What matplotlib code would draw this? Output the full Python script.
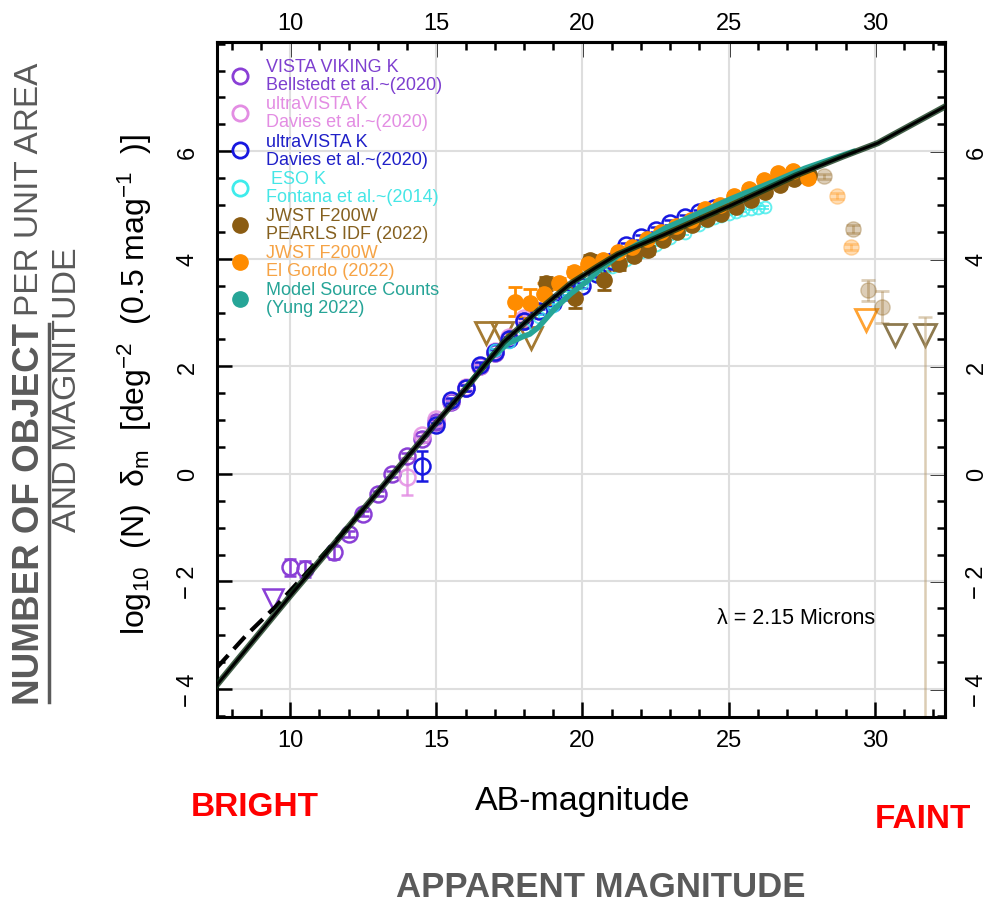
import matplotlib
matplotlib.use('Agg')
import matplotlib.pyplot as plt
from matplotlib.lines import Line2D
from matplotlib.ticker import MultipleLocator, FixedLocator, FuncFormatter

plt.rcParams['font.family'] = ['Liberation Sans', 'DejaVu Sans']
plt.rcParams['mathtext.fontset'] = 'custom'
plt.rcParams['mathtext.rm'] = 'Liberation Sans'
plt.rcParams['mathtext.it'] = 'Liberation Sans:italic'

# ---- data ----
# model curves (black solid, black dashed, teal model counts)
solid_mag = [7.5, 10.0, 12.5, 15.0, 16.0, 17.3, 18.5, 19.6, 20.5, 21.2, 22.8, 25.1, 27.3, 28.9, 30.1, 32.4]
solid_y = [-3.92, -2.27, -0.66, 0.95, 1.58, 2.45, 3.04, 3.54, 3.85, 4.08, 4.45, 5.0, 5.55, 5.9, 6.15, 6.83]
dash_mag = [7.5, 8.5, 9.5, 10.5, 11.5, 12.5]
dash_y = [-3.6, -3.0, -2.47, -1.88, -1.28, -0.66]
model_mag = [16.0, 16.9, 17.45, 17.95, 18.2, 18.5, 19.05, 19.6, 20.2, 20.6, 21.2, 22.8, 25.1, 26.7, 27.6, 29.3]
model_y = [1.6, 2.17, 2.42, 2.55, 2.6, 2.73, 3.07, 3.35, 3.6, 3.8, 4.05, 4.56, 5.12, 5.47, 5.68, 6.0]

# VISTA VIKING K (Bellstedt 2020)
vik_mag = [10.0, 10.5, 11.5, 12.0, 12.5, 13.0, 13.5, 14.0, 14.5, 15.0, 15.5, 16.0, 16.5, 17.0, 17.5, 18.0]
vik_y = [-1.74, -1.77, -1.46, -1.12, -0.74, -0.37, 0.0, 0.34, 0.65, 0.96, 1.33, 1.6, 2.0, 2.25, 2.5, 2.85]
vik_err = [0.15, 0.15, 0.12, 0.05, 0.05, 0.05, 0.05, 0.05, 0.05, 0.05, 0.05, 0.05, 0.05, 0.05, 0.05, 0.05]
vik_lim_mag = [9.4]
vik_lim_y = [-2.33]

# ultraVISTA K (Davies 2020), pink
uvp_mag = [14.0, 14.5, 15.0, 15.5, 16.0, 16.5, 17.0, 17.5, 18.0]
uvp_y = [-0.05, 0.72, 1.02, 1.35, 1.62, 2.0, 2.28, 2.55, 2.9]
uvp_err = [0.35, 0.05, 0.05, 0.05, 0.05, 0.05, 0.05, 0.05, 0.05]

# ultraVISTA K (Davies 2020), blue
uvb_mag = [14.5, 15.0, 15.5, 16.0, 16.5, 17.0, 17.5, 18.0, 18.5, 19.0, 19.5, 20.0, 20.5,
           21.0, 21.5, 22.0, 22.5, 23.0, 23.5, 24.0, 24.5]
uvb_y = [0.15, 0.9, 1.37, 1.6, 2.03, 2.27, 2.5, 2.85, 3.02, 3.18, 3.38, 3.5, 3.72,
         3.95, 4.25, 4.4, 4.54, 4.67, 4.77, 4.86, 4.95]
uvb_err = [0.28] + [0.05] * 20

# ESO K (Fontana 2014)
eso_mag = [17.0, 17.5, 18.0, 18.5, 19.0, 19.5, 20.0, 20.5, 21.0, 21.5, 22.0, 22.5, 23.0, 23.5,
           24.0, 24.25, 24.5, 24.75, 25.0, 25.25, 25.5, 25.75, 26.0, 26.25]
eso_y = [2.3, 2.45, 2.7, 2.92, 3.12, 3.35, 3.55, 3.72, 3.85, 3.97, 4.12, 4.26, 4.38, 4.48,
         4.62, 4.7, 4.75, 4.8, 4.84, 4.87, 4.9, 4.93, 4.95, 4.96]

# JWST F200W PEARLS IDF (2022)
pearls_mag = [18.75, 19.75, 20.25, 20.75, 21.25, 21.75, 22.25, 22.75, 23.25, 23.75, 24.25,
              24.75, 25.25, 25.75, 26.25, 26.75, 27.25, 27.75]
pearls_y = [3.54, 3.27, 3.97, 3.6, 3.9, 4.05, 4.16, 4.35, 4.5, 4.63, 4.74, 4.84, 4.97,
            5.1, 5.24, 5.37, 5.48, 5.56]
pearls_err = [0.12, 0.18, 0.1, 0.18, 0.1, 0.08, 0.08, 0.06, 0.06, 0.05, 0.05, 0.05, 0.05,
              0.05, 0.05, 0.05, 0.05, 0.05]
pearls_faint_mag = [28.25, 29.25, 29.75, 30.25]
pearls_faint_y = [5.53, 4.55, 3.41, 3.1]
pearls_faint_err = [0.05, 0.08, 0.2, 0.3]
pearls_lim_mag = [16.7, 17.25, 18.25]
pearls_lim_y = [2.62, 2.62, 2.52]
pearls_lim_faint_mag = [30.7, 31.7]
pearls_lim_faint_y = [2.58, 2.58]

# JWST F200W El Gordo (2022)
gordo_mag = [17.7, 18.2, 18.7, 19.2, 19.7, 20.2, 20.7, 21.2, 21.7, 22.2, 22.7, 23.2, 23.7,
             24.2, 24.7, 25.2, 25.7, 26.2, 26.7, 27.2, 27.7]
gordo_y = [3.2, 3.17, 3.35, 3.54, 3.76, 3.9, 3.97, 4.13, 4.22, 4.36, 4.5, 4.6, 4.72,
           4.92, 5.0, 5.17, 5.3, 5.47, 5.6, 5.64, 5.5]
gordo_err = [0.27, 0.27, 0.2, 0.1, 0.08, 0.08, 0.08, 0.06, 0.06, 0.05, 0.05, 0.05, 0.05,
             0.05, 0.05, 0.05, 0.05, 0.05, 0.05, 0.05, 0.05]
gordo_faint_mag = [28.7, 29.2]
gordo_faint_y = [5.17, 4.22]
gordo_lim_mag = [29.7]
gordo_lim_y = [2.86]

x_ticks = [10, 15, 20, 25, 30]
y_ticks = [-4, -2, 0, 2, 4, 6]

c_vik = '#8a3fd6'
c_uvp = '#e38de3'
c_uvb = '#1818e0'
c_eso = '#3fecec'
c_pearls = '#8b5c12'
c_pearls_lim = '#a47a32'
c_gordo = '#ff8c00'
c_model = '#26a597'
gray = '#5a5a5a'

W, H = 993, 903
fig = plt.figure(figsize=(W / 100, H / 100), dpi=100)
ax = fig.add_axes([217 / W, 1 - 718 / H, (945 - 217) / W, (718 - 43) / H])

eb_open = dict(fmt='o', mfc='none', ms=11.5, mew=1.8, elinewidth=1.8, capsize=4.5, capthick=1.8)

ax.errorbar(vik_mag, vik_y, yerr=vik_err, color=c_vik, mec=c_vik, **eb_open)
ax.plot(vik_lim_mag, vik_lim_y, 'v', mfc='none', mec=c_vik, ms=15, mew=1.8)
ax.errorbar(uvp_mag, uvp_y, yerr=uvp_err, color=c_uvp, mec=c_uvp, alpha=0.85, **eb_open)
ax.errorbar(uvb_mag, uvb_y, yerr=uvb_err, color=c_uvb, mec=c_uvb, **eb_open)
ax.errorbar(eso_mag, eso_y, yerr=0.03, fmt='o', mfc='none', ms=8.5, mew=1.4,
            color=c_eso, mec=c_eso, elinewidth=1.2, capsize=3, capthick=1.2, alpha=0.8)

eb_fill = dict(fmt='o', ms=11, elinewidth=2, capsize=5, capthick=2)
ax.errorbar(pearls_mag, pearls_y, yerr=pearls_err, color=c_pearls, mec=c_pearls, **eb_fill)
ax.errorbar(gordo_mag, gordo_y, yerr=gordo_err, color=c_gordo, mec=c_gordo, **eb_fill)
ax.errorbar(pearls_faint_mag, pearls_faint_y, yerr=pearls_faint_err, color=c_pearls,
            mec=c_pearls, alpha=0.3, **eb_fill)
ax.errorbar(gordo_faint_mag, gordo_faint_y, yerr=0.06, color=c_gordo, mec=c_gordo,
            alpha=0.3, **eb_fill)

ax.plot(pearls_lim_mag, pearls_lim_y, 'v', mfc='none', mec=c_pearls_lim, ms=16, mew=2)
ax.plot(gordo_lim_mag, gordo_lim_y, 'v', mfc='none', mec=c_gordo, ms=16, mew=2, alpha=0.8)
ax.plot(pearls_lim_faint_mag, pearls_lim_faint_y, 'v', mfc='none', mec='#7a6330', ms=16,
        mew=2, alpha=0.85)
ax.errorbar(pearls_lim_faint_mag[-1:], pearls_lim_faint_y[-1:], yerr=[[10], [0.34]],
            fmt='none', ecolor='#b89a6a', elinewidth=1.8, capsize=5, capthick=1.8, alpha=0.5)

ax.plot(model_mag, model_y, color=c_model, lw=4, solid_capstyle='round', zorder=4)
ax.plot(dash_mag, dash_y, color='black', lw=3, ls=(0, (4, 2)), zorder=5)
ax.plot(solid_mag, solid_y, color='#14381c', lw=4.5, zorder=5, alpha=0.8)
ax.plot(solid_mag, solid_y, color='black', lw=2.2, zorder=6)

ax.set_xlim(7.5, 32.4)
ax.set_ylim(-4.52, 8.03)
ax.xaxis.set_major_locator(FixedLocator(x_ticks))
ax.xaxis.set_minor_locator(MultipleLocator(1))
ax.yaxis.set_major_locator(FixedLocator(y_ticks))
ax.yaxis.set_minor_locator(MultipleLocator(0.5))
fmt = FuncFormatter(lambda v, p: f'\u2212 {abs(int(round(v)))}' if v < 0 else f'{int(round(v))}')
ax.yaxis.set_major_formatter(fmt)
ax.grid(True, which='major', color='#dedede', lw=1.5)
ax.set_axisbelow(True)
for s in ax.spines.values():
    s.set_linewidth(2.2)

ax.tick_params(which='both', direction='in', width=1.8, labelsize=17, top=False, right=False)
ax.tick_params(which='major', length=11)
ax.tick_params(which='minor', length=6)
ax.tick_params(axis='x', pad=9)
ax.tick_params(axis='y', pad=13, labelrotation=90)
for t in ax.get_yticklabels():
    t.set_va('center')

# top and right axes carry their own labels
sec_x = ax.secondary_xaxis('top')
sec_x.xaxis.set_major_locator(FixedLocator(x_ticks))
sec_x.xaxis.set_minor_locator(MultipleLocator(1))
sec_x.spines['top'].set_linewidth(2.2)
sec_x.tick_params(which='both', direction='in', width=1.8, labelsize=17, pad=6)
sec_x.tick_params(which='major', length=11)
sec_x.tick_params(which='minor', length=6)

sec = ax.secondary_yaxis('right')
sec.yaxis.set_major_locator(FixedLocator(y_ticks))
sec.yaxis.set_minor_locator(MultipleLocator(0.5))
sec.yaxis.set_major_formatter(fmt)
sec.spines['right'].set_linewidth(2.2)
sec.tick_params(which='both', direction='in', width=1.8, labelsize=17, pad=15,
                labelrotation=90)
sec.tick_params(which='major', length=11)
sec.tick_params(which='minor', length=6)
for t in sec.get_yticklabels():
    t.set_va('center')

ax.text(24.6, -2.67, '\u03bb = 2.15 Microns', fontsize=15.5, va='center', ha='left')

# legend
handles = [
    Line2D([], [], ls='none', marker='o', mfc='none', mec=c_vik, ms=11, mew=2),
    Line2D([], [], ls='none', marker='o', mfc='none', mec=c_uvp, ms=11, mew=2),
    Line2D([], [], ls='none', marker='o', mfc='none', mec=c_uvb, ms=11, mew=2),
    Line2D([], [], ls='none', marker='o', mfc='none', mec=c_eso, ms=11, mew=2),
    Line2D([], [], ls='none', marker='o', color=c_pearls, ms=11),
    Line2D([], [], ls='none', marker='o', color=c_gordo, ms=11),
    Line2D([], [], ls='none', marker='o', color=c_model, ms=11),
]
labels = [
    'VISTA VIKING K\nBellstedt et al.~(2020)',
    'ultraVISTA K\nDavies et al.~(2020)',
    'ultraVISTA K\nDavies et al.~(2020)',
    ' ESO K\nFontana et al.~(2014)',
    'JWST F200W\nPEARLS IDF (2022)',
    'JWST F200W\nEl Gordo (2022)',
    'Model Source Counts\n(Yung 2022)',
]
text_colors = ['#7d3fcf', '#e38de3', '#2020c8', '#45e6e6', '#85601f', '#f6a345', '#26a497']
leg = ax.legend(handles, labels, loc='upper left', bbox_to_anchor=(0.018, 0.976),
                frameon=False, fontsize=13, handlelength=1.15, handletextpad=0.85,
                labelspacing=0.12, borderpad=0, borderaxespad=0)
for t, c in zip(leg.get_texts(), text_colors):
    t.set_color(c)
    t.set_linespacing(1.08)

# outer annotations
fig.text(583 / W, 1 - 802 / H, 'AB-magnitude', fontsize=24.5, ha='center', va='center')
fig.text(135 / W, 1 - 385 / H,
         'log$_{10}$  (N)  \u03b4$_{\\rm m}$  [deg$^{-2}$  (0.5 mag$^{-1}$  )]',
         fontsize=23, rotation=90, ha='center', va='center')
bold_font = ['Liberation Sans Narrow', 'Liberation Sans']
fig.text(255 / W, 1 - 808 / H, 'BRIGHT', fontsize=24, fontweight='bold', color='#ff0000',
         family=bold_font, ha='center', va='center')
fig.text(923 / W, 1 - 820 / H, 'FAINT', fontsize=24, fontweight='bold', color='#ff0000',
         family=bold_font, ha='center', va='center')
fig.text(601 / W, 1 - 888 / H, 'APPARENT MAGNITUDE', fontsize=25, fontweight='bold',
         color=gray, family=bold_font, ha='center', va='center')
fig.text(68 / W, 1 - 390 / H, 'AND MAGNITUDE', fontsize=24.5, color=gray, rotation=90,
         ha='center', va='center')

bold_t = fig.text(30 / W, 1 - 705 / H, 'NUMBER OF OBJECT', fontsize=26.5, fontweight='bold',
                  color=gray, family=bold_font, rotation=90, ha='center', va='bottom')
fig.canvas.draw()
bb = bold_t.get_window_extent()
fig.text(30 / W, (bb.y1 + 7) / H, 'PER UNIT AREA', fontsize=24, color=gray, rotation=90,
         ha='center', va='bottom')
fig.add_artist(Line2D([(bb.x1 + 1) / W] * 2, [(bb.y0 + 2) / H, (bb.y1 - 2) / H],
                      color=gray, lw=2.5, transform=fig.transFigure))

fig.savefig('out.png', dpi=100)
